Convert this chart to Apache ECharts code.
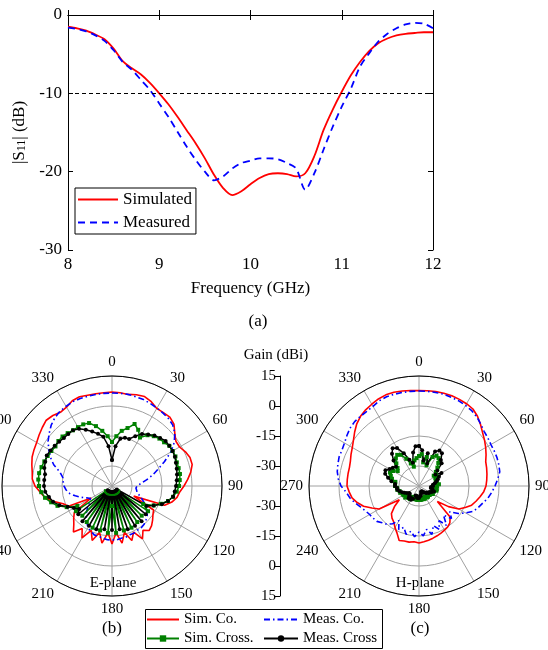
<!DOCTYPE html>
<html>
<head>
<meta charset="utf-8">
<script src="https://cdn.jsdelivr.net/npm/echarts@6/dist/echarts.min.js"></script>
<style>html,body{margin:0;padding:0;background:#fff}#main{width:548px;height:650px}</style>
</head>
<body>
<div id="main"></div>
<script>
// (a) |S11|
var freq = [8.0,8.1,8.2,8.3,8.4,8.5,8.6,8.7,8.8,8.9,9.0,9.1,9.2,9.3,9.4,9.5,9.6,9.7,9.8,9.9,
            10.0,10.1,10.2,10.3,10.4,10.5,10.6,10.7,10.8,10.9,11.0,11.1,11.2,11.3,11.4,11.5,11.6,11.7,11.8,11.9,12.0];
var s11Sim = [-1.5,-1.7,-2.0,-2.5,-3.1,-4.3,-5.9,-6.8,-7.6,-8.7,-10.0,-11.4,-13.0,-14.7,-16.4,-18.3,-20.4,-22.1,-23.0,-22.5,
              -21.6,-20.8,-20.3,-20.2,-20.3,-20.6,-20.2,-18.0,-14.7,-12.1,-9.8,-7.7,-6.0,-4.6,-3.6,-3.0,-2.6,-2.4,-2.3,-2.2,-2.2];
var s11Meas = [-1.6,-1.8,-2.1,-2.6,-3.3,-4.5,-6.0,-7.0,-8.3,-9.6,-11.3,-13.0,-14.9,-16.8,-18.5,-20.0,-21.1,-20.6,-19.6,-18.9,
               -18.6,-18.3,-18.3,-18.4,-18.9,-19.6,-22.3,-20.2,-17.2,-14.3,-11.7,-9.4,-6.6,-4.9,-3.4,-2.4,-1.7,-1.2,-1.0,-1.1,-1.7];

// (b),(c) patterns, angle in degrees, gain in dBi
var angles = [0,5,10,15,20,25,30,35,40,45,50,55,
              60,65,70,75,80,85,90,95,100,105,110,115,
              120,125,130,135,140,145,150,155,160,165,170,175,
              180,185,190,195,200,205,210,215,220,225,230,235,
              240,245,250,255,260,265,270,275,280,285,290,295,
              300,305,310,315,320,325,330,335,340,345,350,355];

var eSimCo = [7,6.8,6.5,7.2,7.6,6.5,4.8,4.8,5,3.8,1,-1,
              -1,0.5,1.5,1.5,0,-2,-4,-6,-7,-9,-12,-28,
              -16,-15,-13.5,-12,-11,-13,-9.5,-14.5,-11,-16,-11,-16.5,
              -11,-16.5,-11,-16,-11,-15.5,-10,-14,-10,-13,-15,-17,
              -28,-16,-14,-10,-6,-4,-1.5,0,0.5,1.5,2.5,3,
              3.5,4.5,5.5,6.5,6,5,5.5,7,7.5,7,6.8,6.8];
var eMeasCo = [6.5,6.5,6.5,6.2,6,5.5,5,4.5,4,3,1,-2,
               -6,-11,-15.5,-19,-22.5,-25.5,-27.5,-28,-27.5,-27,-25,-23,
               -20.5,-19,-17,-16,-15,-14.5,-14.5,-14,-14,-13.5,-13.5,-13,
               -13,-13,-13.5,-14,-14,-15,-16,-18,-20,-22,-24.5,-26.5,
               -27.5,-26,-23.5,-21,-18.5,-17,-16,-15.5,-15,-13,-9,-6,
               -3.5,-1,1,3,4.5,5.5,6,6.5,6.5,6.5,6.5,6.5];
var eSimX = [-18,-15,-12,-10,-7,-9,-12,-9,-7.5,-6.5,-6,-5,
             -5,-5,-5.5,-5.5,-5.5,-6,-6.5,-7.5,-9,-11,-14,-17,
             -22,-18,-36,-19,-36,-18,-36,-17,-36,-17,-36,-16.5,
             -30,-16.5,-36,-17,-36,-17,-36,-18,-36,-19,-36,-18,
             -20,-15,-11,-8.5,-6,-4.5,-3.5,-3,-3,-3.5,-4,-4.5,
             -5,-5.5,-5,-5,-5.5,-6,-6,-6,-6.5,-9,-12,-15];
var eMeasX = [-27,-20,-16,-15,-15,-12.5,-10,-8.5,-7,-6,-5,-5,
              -5,-5.3,-6,-6.5,-7,-7.5,-8,-8.5,-9,-11,-13.5,-17,
              -20,-37,-18,-37,-17,-37,-17,-37,-17,-37,-18,-37,
              -18,-37,-18,-37,-17,-37,-17,-37,-17,-37,-18,-20,
              -18,-15.5,-12,-9.5,-8,-6.5,-6,-6,-6,-5,-4.5,-4,
              -4.5,-5,-5.5,-6,-6,-6,-7,-9,-11,-13,-15,-20];

var hSimCo = [7.7,7.8,8,8,8,7.8,7.5,7,5.5,3.5,1.5,0,
              -1.5,-3,-4.5,-5,-5.5,-6,-6.5,-7.5,-9,-10.5,-12,-14.5,
              -17,-22,-28,-18,-16,-15,-14.5,-14,-13.5,-13,-12.5,-12,
              -11.5,-12,-11.5,-11.5,-11,-14,-16,-18,-19,-20.5,-24,-28,
              -17,-14,-10.5,-8,-6,-5,-4,-4,-4,-4,-3.5,-2.5,
              -1.5,0,2,4,5.5,6.5,7.2,8,8.5,8.5,8.2,7.9];
var hMeasCo = [7.5,7.5,7.5,7.5,7.2,7,6.5,6,5,3.7,2.5,2,
               1.5,1.5,1.5,1.3,1,-0.5,-2,-3.5,-5,-7,-8.5,-10,
               -13,-16,-20,-17,-21,-16,-20,-16,-19,-15,-18,-15,
               -17,-14.5,-17,-15,-18,-16,-20,-17,-15,-14,-12.5,-12,
               -11.5,-10.5,-9,-7,-5,-3.5,-1,0.5,1.5,2,2.5,2.5,
               3,4,5,5.5,5.5,5.5,6,7,7.5,7.5,7.5,7.5];
var hSimX = [-25,-24,-28,-25,-29,-24,-22.5,-23,-25,-27,-29,-31,
             -30,-31,-31,-31,-31,-30,-31,-32,-31,-31,-32,-33,
             -32,-33,-33,-34,-33,-33,-34,-33,-33,-34,-33,-33,
             -34,-33,-33,-34,-33,-34,-33,-32,-33,-32,-31,-32,
             -31,-31,-30,-30,-29,-29,-28,-28,-28,-26,-25,-24,
             -25,-27,-26,-24,-22,-21,-22,-25,-28,-30,-27,-26];
var hMeasX = [-20,-22,-27,-23,-28,-21,-19.5,-20,-23,-24,-28,-30,
              -27,-29,-30,-31,-32,-33,-33,-34,-34,-33,-32,-33,
              -34,-34,-35,-35,-36,-36,-37,-37,-37,-36,-35,-35,
              -34,-34,-34,-35,-35,-33,-32,-33,-32,-33,-34,-34,
              -33,-32,-31,-30,-29,-29,-28,-28,-26,-24,-22,-21.5,
              -23,-24,-25,-22,-19,-17,-18,-22,-26,-28,-23,-20];

// middle gain scale (radius from centre, in dB units), top to bottom
var gainTickPos = [55,40,25,10,-10,-25,-40,-55];
var gainTickLabels = ['15','0','-15','-30','-30','-15','0','15'];

var FONT = 'Liberation Serif';

function xy(x, y) { return x.map(function (v, i) { return [v, y[i]]; }); }
function polarData(g) {
    var d = g.map(function (v, i) { return [v, angles[i]]; });
    d.push([g[0], 360]);
    return d;
}

var chart = echarts.init(document.getElementById('main'));

function angleAxis(idx) {
    return {
        polarIndex: idx, type: 'value', min: 0, max: 360, interval: 30,
        startAngle: 90, clockwise: true,
        axisLine: {lineStyle: {color: '#000', width: 1}},
        axisTick: {show: false},
        axisLabel: {color: '#000', fontFamily: FONT, fontSize: 15, margin: 6,
            formatter: function (v) { return v === 360 ? '' : String(v); }},
        splitLine: {show: true, lineStyle: {color: '#a0a0a0', width: 1}}
    };
}
function radiusAxis(idx) {
    return {
        polarIndex: idx, type: 'value', min: -40, max: 15, interval: 5,
        axisLine: {show: false}, axisTick: {show: false}, axisLabel: {show: false},
        splitLine: {show: true, lineStyle: {color: ['rgba(0,0,0,0)', 'rgba(0,0,0,0)', '#a0a0a0'], width: 1}}
    };
}
function pSeries(name, idx, g, style) {
    var s = {
        name: name, type: 'line', coordinateSystem: 'polar', polarIndex: idx,
        data: polarData(g), symbol: 'none', lineStyle: style.line, itemStyle: {color: style.line.color},
        animation: false
    };
    if (style.symbol) { s.symbol = style.symbol; s.symbolSize = style.size; s.showSymbol = true; }
    return s;
}
var stSimCo = {line: {color: '#ff0000', width: 1.6}};
var stMeasCo = {line: {color: '#0000ff', width: 1.6, type: [6, 3, 1.5, 3]}};
var stSimX = {line: {color: '#008000', width: 1.5}, symbol: 'rect', size: 4};
var stMeasX = {line: {color: '#000000', width: 1.5}, symbol: 'circle', size: 4};

// legend entries for plain lines: hide the marker
var noMark = {opacity: 0};

var option = {
    backgroundColor: '#fff',
    animation: false,
    textStyle: {fontFamily: FONT},
    grid: [
        {left: 68, top: 15, width: 365, height: 235},
        {left: 280, top: 376, width: 1, height: 220}
    ],
    xAxis: [
        {gridIndex: 0, type: 'value', min: 8, max: 12, interval: 1,
         axisLine: {lineStyle: {color: '#000'}}, axisTick: {inside: true, length: 5, lineStyle: {color: '#000'}},
         axisLabel: {color: '#000', fontSize: 17, fontFamily: FONT, margin: 6},
         splitLine: {show: false},
         name: 'Frequency (GHz)', nameLocation: 'middle', nameGap: 30,
         nameTextStyle: {color: '#000', fontSize: 17, fontFamily: FONT}},
        {gridIndex: 0, type: 'value', position: 'top', min: 8, max: 12, interval: 1,
         axisLine: {lineStyle: {color: '#000'}}, axisTick: {inside: true, length: 5, lineStyle: {color: '#000'}},
         axisLabel: {show: false}, splitLine: {show: false}},
        {gridIndex: 1, type: 'value', show: false}
    ],
    yAxis: [
        {gridIndex: 0, type: 'value', min: -30, max: 0, interval: 10,
         axisLine: {show: true, lineStyle: {color: '#000'}}, axisTick: {show: true, inside: true, length: 5, lineStyle: {color: '#000'}},
         axisLabel: {color: '#000', fontSize: 17, fontFamily: FONT, margin: 6},
         splitLine: {show: false},
         name: '|S{s|11}| (dB)', nameLocation: 'middle', nameGap: 40, nameRotate: 90,
         nameTextStyle: {color: '#000', fontSize: 17, fontFamily: FONT,
            rich: {s: {fontSize: 12, fontFamily: FONT, color: '#000', verticalAlign: 'bottom', lineHeight: 16}}}},
        {gridIndex: 0, type: 'value', position: 'right', min: -30, max: 0, interval: 10,
         axisLine: {show: true, lineStyle: {color: '#000'}}, axisTick: {show: true, inside: true, length: 5, lineStyle: {color: '#000'}},
         axisLabel: {show: false}, splitLine: {show: false}},
        {gridIndex: 1, type: 'value', min: -55, max: 55, interval: 5,
         axisLine: {show: true, lineStyle: {color: '#000'}},
         axisTick: {show: true, length: 5, customValues: gainTickPos, lineStyle: {color: '#000'}},
         axisLabel: {show: true, customValues: gainTickPos, color: '#000', fontSize: 15, fontFamily: FONT, margin: 4,
            formatter: function (v) { var i = gainTickPos.indexOf(v); return i < 0 ? '' : gainTickLabels[i]; }},
         splitLine: {show: false}}
    ],
    polar: [
        {center: [112, 486], radius: 110},
        {center: [419, 486], radius: 110}
    ],
    angleAxis: [angleAxis(0), angleAxis(1)],
    radiusAxis: [radiusAxis(0), radiusAxis(1)],
    legend: [
        {left: 75, top: 188, orient: 'vertical',
         data: [{name: 'Simulated', itemStyle: noMark}, {name: 'Measured', itemStyle: noMark}],
         itemWidth: 40, itemHeight: 10, itemGap: 6, padding: [3, 4, 3, 2],
         borderColor: '#000', borderWidth: 1, borderRadius: 0,
         textStyle: {color: '#000', fontSize: 17, fontFamily: FONT}},
        {left: 146, top: 612, orient: 'vertical',
         data: [{name: 'Sim. Co.', itemStyle: noMark}, 'Sim. Cross.'],
         itemWidth: 32, itemHeight: 8, itemGap: 4, padding: 0,
         textStyle: {color: '#000', fontSize: 15, fontFamily: FONT}},
        {left: 263, top: 612, orient: 'vertical',
         data: [{name: 'Meas. Co.', itemStyle: noMark}, 'Meas. Cross'],
         itemWidth: 34, itemHeight: 8, itemGap: 4, padding: 0,
         textStyle: {color: '#000', fontSize: 15, fontFamily: FONT}}
    ],
    graphic: [
        {type: 'rect', shape: {x: 145.5, y: 609.5, width: 237, height: 39}, style: {fill: 'none', stroke: '#000', lineWidth: 1}},
        {type: 'text', x: 258, y: 322, style: {text: '(a)', fontSize: 17, fontFamily: FONT, fill: '#000', textAlign: 'center', textVerticalAlign: 'middle'}},
        {type: 'text', x: 113, y: 583, style: {text: 'E-plane', fontSize: 15, fontFamily: FONT, fill: '#000', textAlign: 'center', textVerticalAlign: 'middle'}},
        {type: 'text', x: 420, y: 583, style: {text: 'H-plane', fontSize: 15, fontFamily: FONT, fill: '#000', textAlign: 'center', textVerticalAlign: 'middle'}},
        {type: 'text', x: 112, y: 629, style: {text: '(b)', fontSize: 17, fontFamily: FONT, fill: '#000', textAlign: 'center', textVerticalAlign: 'middle'}},
        {type: 'text', x: 420, y: 629, style: {text: '(c)', fontSize: 17, fontFamily: FONT, fill: '#000', textAlign: 'center', textVerticalAlign: 'middle'}},
        {type: 'text', x: 276, y: 355, style: {text: 'Gain (dBi)', fontSize: 15, fontFamily: FONT, fill: '#000', textAlign: 'center', textVerticalAlign: 'middle'}}
    ],
    series: [
        {name: 'Simulated', type: 'line', xAxisIndex: 0, yAxisIndex: 0, data: xy(freq, s11Sim),
         symbol: 'none', smooth: 0.3, lineStyle: {color: '#ff0000', width: 1.8}, itemStyle: {color: '#ff0000'},
         markLine: {silent: true, symbol: 'none', label: {show: false},
            lineStyle: {color: '#000', type: [4, 3], width: 1}, data: [{yAxis: -10}]}},
        {name: 'Measured', type: 'line', xAxisIndex: 0, yAxisIndex: 0, data: xy(freq, s11Meas),
         symbol: 'none', smooth: 0.3, lineStyle: {color: '#0000ff', width: 1.8, type: [7, 5]}, itemStyle: {color: '#0000ff'}},
        pSeries('Sim. Co.', 0, eSimCo, stSimCo),
        pSeries('Meas. Co.', 0, eMeasCo, stMeasCo),
        pSeries('Sim. Cross.', 0, eSimX, stSimX),
        pSeries('Meas. Cross', 0, eMeasX, stMeasX),
        pSeries('Sim. Co.', 1, hSimCo, stSimCo),
        pSeries('Meas. Co.', 1, hMeasCo, stMeasCo),
        pSeries('Sim. Cross.', 1, hSimX, stSimX),
        pSeries('Meas. Cross', 1, hMeasX, stMeasX)
    ]
};
chart.setOption(option);
</script>
</body>
</html>
